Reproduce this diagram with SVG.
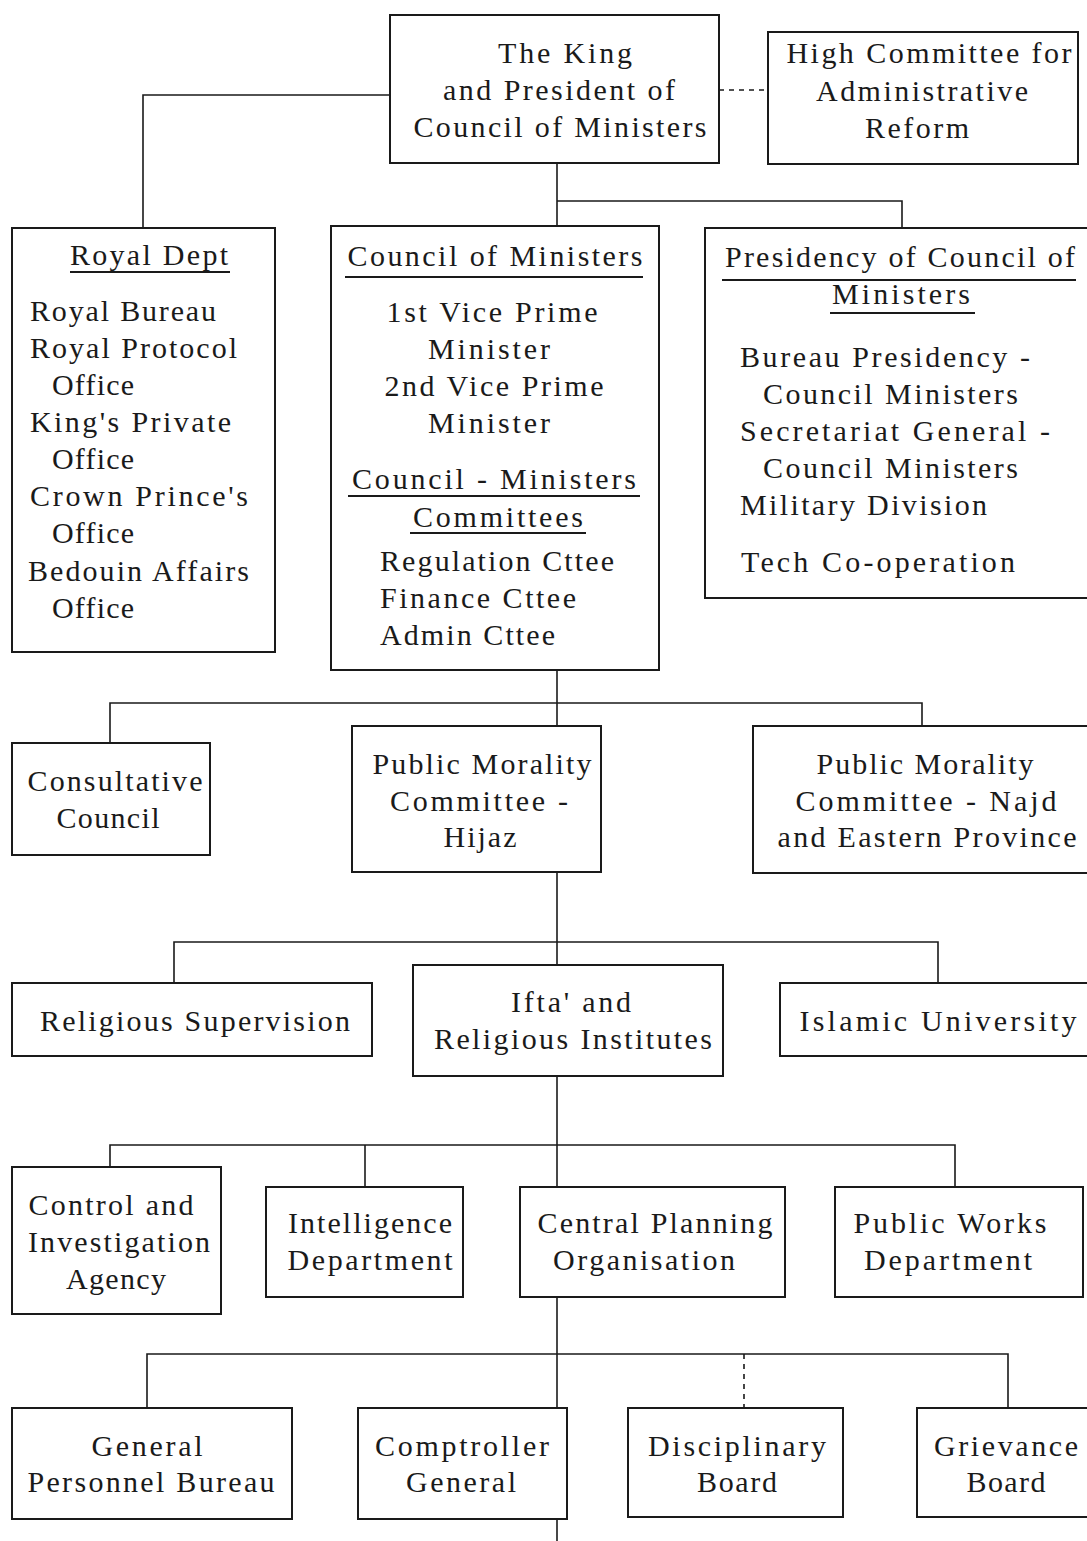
<svg xmlns="http://www.w3.org/2000/svg" width="1087" height="1541" viewBox="0 0 1087 1541">
<style>
.box{fill:none;stroke:#1a1a1a;stroke-width:2}
.ln{fill:none;stroke:#1a1a1a;stroke-width:1.6}
.dash{fill:none;stroke:#1a1a1a;stroke-width:1.6;stroke-dasharray:5 5}
.ul{stroke:#1a1a1a;stroke-width:2}
text{font-family:"Liberation Serif","Times New Roman",serif;font-size:30px;fill:#1a1a1a}
.c{text-anchor:middle}
</style>
<rect width="1087" height="1541" fill="#fff"/>
<g id="connectors">
<line class="dash" x1="719" y1="90" x2="768" y2="90"/>
<polyline class="ln" points="390,95 143,95 143,228"/>
<polyline class="ln" points="557,163 557,226"/>
<polyline class="ln" points="557,201 902,201 902,228"/>
<polyline class="ln" points="557,670 557,726"/>
<polyline class="ln" points="110,743 110,703 922,703 922,726"/>
<polyline class="ln" points="557,872 557,965"/>
<polyline class="ln" points="174,983 174,942 938,942 938,983"/>
<polyline class="ln" points="557,1076 557,1187"/>
<polyline class="ln" points="110,1167 110,1145 955,1145 955,1187"/>
<line class="ln" x1="365" y1="1145" x2="365" y2="1187"/>
<polyline class="ln" points="557,1297 557,1408"/>
<polyline class="ln" points="147,1408 147,1354 1008,1354 1008,1408"/>
<line class="dash" x1="744" y1="1354" x2="744" y2="1408"/>
<line class="ln" x1="557" y1="1519" x2="557" y2="1541"/>
</g>
<g id="king">
<rect class="box" x="390" y="15" width="329" height="148"/>
<text class="c" x="565" y="63" textLength="134" lengthAdjust="spacing">The King</text>
<text class="c" x="559" y="100" textLength="232" lengthAdjust="spacing">and President of</text>
<text class="c" x="560" y="137" textLength="293" lengthAdjust="spacing">Council of Ministers</text>
</g>
<g id="high-committee">
<rect class="box" x="768" y="32" width="310" height="132"/>
<text class="c" x="929" y="63" textLength="285" lengthAdjust="spacing">High Committee for</text>
<text class="c" x="922" y="101" textLength="212" lengthAdjust="spacing">Administrative</text>
<text class="c" x="917" y="138" textLength="104" lengthAdjust="spacing">Reform</text>
</g>
<g id="royal-dept">
<rect class="box" x="12" y="228" width="263" height="424"/>
<text class="c" x="149" y="265" textLength="158" lengthAdjust="spacing">Royal Dept</text>
<line class="ul" x1="70" y1="272" x2="230" y2="272"/>
<text x="30" y="321" textLength="186" lengthAdjust="spacing">Royal Bureau</text>
<text x="30" y="358" textLength="207" lengthAdjust="spacing">Royal Protocol</text>
<text x="52" y="395" textLength="82" lengthAdjust="spacing">Office</text>
<text x="30" y="432" textLength="201" lengthAdjust="spacing">King's Private</text>
<text x="52" y="469" textLength="82" lengthAdjust="spacing">Office</text>
<text x="30" y="506" textLength="218" lengthAdjust="spacing">Crown Prince's</text>
<text x="52" y="543" textLength="82" lengthAdjust="spacing">Office</text>
<text x="28" y="581" textLength="221" lengthAdjust="spacing">Bedouin Affairs</text>
<text x="52" y="618" textLength="82" lengthAdjust="spacing">Office</text>
</g>
<g id="council-of-ministers">
<rect class="box" x="331" y="226" width="328" height="444"/>
<text class="c" x="495" y="266" textLength="295" lengthAdjust="spacing">Council of Ministers</text>
<line class="ul" x1="345" y1="277" x2="643" y2="277"/>
<text class="c" x="492" y="322" textLength="211" lengthAdjust="spacing">1st Vice Prime</text>
<text class="c" x="489" y="359" textLength="122" lengthAdjust="spacing">Minister</text>
<text class="c" x="494" y="396" textLength="219" lengthAdjust="spacing">2nd Vice Prime</text>
<text class="c" x="489" y="433" textLength="122" lengthAdjust="spacing">Minister</text>
<text class="c" x="494" y="489" textLength="284" lengthAdjust="spacing">Council - Ministers</text>
<line class="ul" x1="348" y1="496" x2="640" y2="496"/>
<text class="c" x="498" y="527" textLength="170" lengthAdjust="spacing">Committees</text>
<line class="ul" x1="410" y1="533" x2="586" y2="533"/>
<text x="380" y="571" textLength="234" lengthAdjust="spacing">Regulation Cttee</text>
<text x="380" y="608" textLength="196" lengthAdjust="spacing">Finance Cttee</text>
<text x="380" y="645" textLength="175" lengthAdjust="spacing">Admin Cttee</text>
</g>
<g id="presidency">
<polyline class="box" points="1087,228 705,228 705,598 1087,598"/>
<text class="c" x="900" y="267" textLength="350" lengthAdjust="spacing">Presidency of Council of</text>
<line class="ul" x1="722" y1="280" x2="1076" y2="280"/>
<text class="c" x="901" y="304" textLength="138" lengthAdjust="spacing">Ministers</text>
<line class="ul" x1="830" y1="313" x2="975" y2="313"/>
<text x="740" y="367" textLength="290" lengthAdjust="spacing">Bureau Presidency -</text>
<text x="763" y="404" textLength="255" lengthAdjust="spacing">Council Ministers</text>
<text x="740" y="441" textLength="310" lengthAdjust="spacing">Secretariat General -</text>
<text x="763" y="478" textLength="255" lengthAdjust="spacing">Council Ministers</text>
<text x="740" y="515" textLength="247" lengthAdjust="spacing">Military Division</text>
<text x="741" y="572" textLength="274" lengthAdjust="spacing">Tech Co-operation</text>
</g>
<g id="consultative-council">
<rect class="box" x="12" y="743" width="198" height="112"/>
<text class="c" x="115" y="791" textLength="175" lengthAdjust="spacing">Consultative</text>
<text class="c" x="108" y="828" textLength="103" lengthAdjust="spacing">Council</text>
</g>
<g id="public-morality-hijaz">
<rect class="box" x="352" y="726" width="249" height="146"/>
<text class="c" x="482" y="774" textLength="219" lengthAdjust="spacing">Public Morality</text>
<text class="c" x="479" y="811" textLength="178" lengthAdjust="spacing">Committee -</text>
<text class="c" x="480" y="847" textLength="73" lengthAdjust="spacing">Hijaz</text>
</g>
<g id="public-morality-najd">
<polyline class="box" points="1087,726 753,726 753,873 1087,873"/>
<text class="c" x="925" y="774" textLength="217" lengthAdjust="spacing">Public Morality</text>
<text class="c" x="926" y="811" textLength="261" lengthAdjust="spacing">Committee - Najd</text>
<text class="c" x="927" y="847" textLength="299" lengthAdjust="spacing">and Eastern Province</text>
</g>
<g id="religious-supervision">
<rect class="box" x="12" y="983" width="360" height="73"/>
<text class="c" x="195" y="1031" textLength="310" lengthAdjust="spacing">Religious Supervision</text>
</g>
<g id="ifta">
<rect class="box" x="413" y="965" width="310" height="111"/>
<text class="c" x="571" y="1012" textLength="120" lengthAdjust="spacing">Ifta' and</text>
<text class="c" x="573" y="1049" textLength="278" lengthAdjust="spacing">Religious Institutes</text>
</g>
<g id="islamic-university">
<polyline class="box" points="1087,983 780,983 780,1056 1087,1056"/>
<text class="c" x="938" y="1031" textLength="277" lengthAdjust="spacing">Islamic University</text>
</g>
<g id="control-investigation">
<rect class="box" x="12" y="1167" width="209" height="147"/>
<text class="c" x="111" y="1215" textLength="165" lengthAdjust="spacing">Control and</text>
<text class="c" x="119" y="1252" textLength="182" lengthAdjust="spacing">Investigation</text>
<text class="c" x="116" y="1289" textLength="100" lengthAdjust="spacing">Agency</text>
</g>
<g id="intelligence">
<rect class="box" x="266" y="1187" width="197" height="110"/>
<text class="c" x="370" y="1233" textLength="164" lengthAdjust="spacing">Intelligence</text>
<text class="c" x="370" y="1270" textLength="165" lengthAdjust="spacing">Department</text>
</g>
<g id="central-planning">
<rect class="box" x="520" y="1187" width="265" height="110"/>
<text class="c" x="655" y="1233" textLength="235" lengthAdjust="spacing">Central Planning</text>
<text class="c" x="644" y="1270" textLength="182" lengthAdjust="spacing">Organisation</text>
</g>
<g id="public-works">
<rect class="box" x="835" y="1187" width="248" height="110"/>
<text class="c" x="950" y="1233" textLength="193" lengthAdjust="spacing">Public Works</text>
<text class="c" x="948" y="1270" textLength="168" lengthAdjust="spacing">Department</text>
</g>
<g id="general-personnel-bureau">
<rect class="box" x="12" y="1408" width="280" height="111"/>
<text class="c" x="147" y="1456" textLength="111" lengthAdjust="spacing">General</text>
<text class="c" x="151" y="1492" textLength="247" lengthAdjust="spacing">Personnel Bureau</text>
</g>
<g id="comptroller-general">
<rect class="box" x="358" y="1408" width="209" height="111"/>
<text class="c" x="462" y="1456" textLength="174" lengthAdjust="spacing">Comptroller</text>
<text class="c" x="461" y="1492" textLength="110" lengthAdjust="spacing">General</text>
</g>
<g id="disciplinary-board">
<rect class="box" x="628" y="1408" width="215" height="109"/>
<text class="c" x="737" y="1456" textLength="178" lengthAdjust="spacing">Disciplinary</text>
<text class="c" x="737" y="1492" textLength="80" lengthAdjust="spacing">Board</text>
</g>
<g id="grievance-board">
<polyline class="box" points="1087,1408 917,1408 917,1517 1087,1517"/>
<text class="c" x="1006" y="1456" textLength="144" lengthAdjust="spacing">Grievance</text>
<text class="c" x="1006" y="1492" textLength="79" lengthAdjust="spacing">Board</text>
</g>
</svg>
